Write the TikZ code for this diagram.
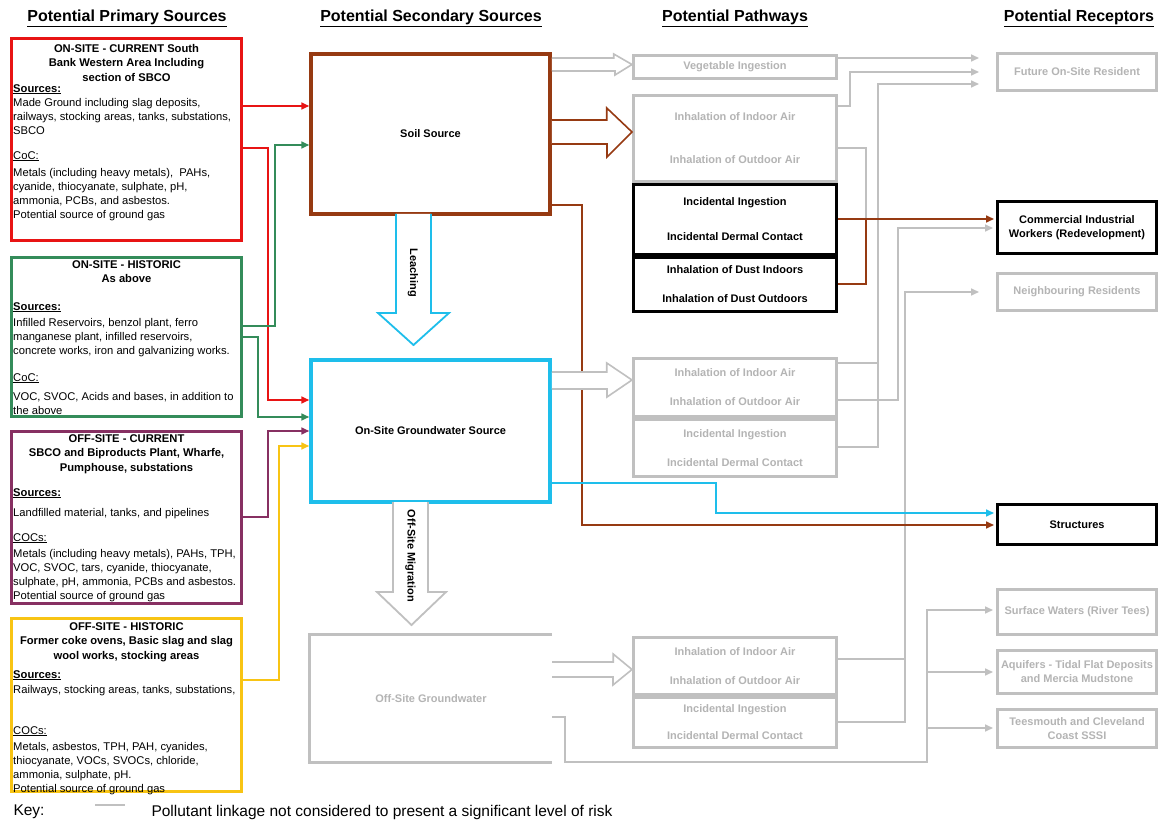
\documentclass[tikz,border=0pt]{standalone}
\usepackage{fontspec}
\setmainfont{Liberation Sans}
\usetikzlibrary{calc}
\usetikzlibrary{arrows.meta}

\definecolor{srcred}{RGB}{232,20,20}
\definecolor{srcgreen}{RGB}{52,140,90}
\definecolor{srcpurple}{RGB}{135,48,98}
\definecolor{srcyellow}{RGB}{248,196,20}
\definecolor{soilbrown}{RGB}{150,58,18}
\definecolor{gwcyan}{RGB}{30,190,235}
\definecolor{lowgray}{RGB}{192,192,192}
\definecolor{lowtext}{RGB}{180,180,180}

\begin{document}
\begin{tikzpicture}[x=1pt,y=-1pt]
\tikzstyle{hdr}=[font=\fontsize{16}{18}\selectfont\bfseries]
\tikzstyle{src}=[draw, rectangle, line width=3pt, minimum width=230, inner sep=0pt]
\tikzstyle{txt}=[font=\fontsize{11.2}{14}\selectfont, align=left, inner sep=0pt, anchor=north west]
\tikzstyle{btxt}=[font=\fontsize{11.2}{14.5}\selectfont\bfseries, align=center, inner sep=0pt, anchor=north]
\tikzstyle{sec}=[draw, rectangle, line width=3.5pt, minimum width=239, font=\fontsize{11}{14}\selectfont\bfseries]
\tikzstyle{pbox}=[draw, rectangle, line width=3pt, minimum width=203, inner sep=0pt, font=\fontsize{11}{14}\selectfont\bfseries, align=center]
\tikzstyle{rbox}=[draw, rectangle, line width=3pt, minimum width=159, inner sep=0pt, font=\fontsize{11}{14}\selectfont\bfseries, align=center]
\tikzstyle{low}=[draw=lowgray, text=lowtext]
\tikzstyle{hi}=[draw=black, text=black]
\tikzstyle{lnk}=[line width=1.6pt, -{Triangle[length=8pt,width=7pt]}]
\tikzstyle{glnk}=[line width=1.6pt, draw=lowgray, -{Triangle[length=8pt,width=7pt]}]
\tikzstyle{gline}=[line width=1.6pt, draw=lowgray]
\tikzstyle{hollow}=[line width=1.6pt, fill=white]

\useasboundingbox (0,0) rectangle (1162,826);
\fill[white] (0,0) rectangle (1162,826);

% column titles
\node[hdr] (tPrim) at (127,18) {\underline{Potential Primary Sources}};
\node[hdr] (tSec) at (431,18) {\underline{Potential Secondary Sources}};
\node[hdr] (tPath) at (735,18) {\underline{Potential Pathways}};
\node[hdr] (tRec) at (1079,18) {\underline{Potential Receptors}};

% primary sources
\node[src, draw=srcred, minimum height=202] (pRed) at (126.5,139.5) {};
\node[btxt] (pRedHd) at (126.5,44) {ON-SITE - CURRENT South\\Bank Western Area Including\\section of SBCO};
\node[txt] (pRedTx) at (13,84) {\underline{\textbf{Sources:}}\\
Made Ground including slag deposits,\\
railways, stocking areas, tanks, substations,\\
SBCO\\[11pt]
\underline{CoC:}\\[3pt]
Metals (including heavy metals),~ PAHs,\\
cyanide, thiocyanate, sulphate, pH,\\
ammonia, PCBs, and asbestos.\\
Potential source of ground gas};

\node[src, draw=srcgreen, minimum height=159] (pGreen) at (126.5,337) {};
\node[btxt] (pGreenHd) at (126.5,260) {ON-SITE - HISTORIC\\As above};
\node[txt] (pGreenTx) at (13,302) {\underline{\textbf{Sources:}}\\[2pt]
Infilled Reservoirs, benzol plant, ferro\\
manganese plant, infilled reservoirs,\\
concrete works, iron and galvanizing works.\\[13pt]
\underline{CoC:}\\[5pt]
VOC, SVOC, Acids and bases, in addition to\\
the above};

\node[src, draw=srcpurple, minimum height=172] (pPurple) at (126.5,517.5) {};
\node[btxt] (pPurpleHd) at (126.5,434) {OFF-SITE - CURRENT\\SBCO and Biproducts Plant, Wharfe,\\Pumphouse, substations};
\node[txt] (pPurpleTx) at (13,488) {\underline{\textbf{Sources:}}\\[6pt]
Landfilled material, tanks, and pipelines\\[11pt]
\underline{COCs:}\\[2pt]
Metals (including heavy metals), PAHs, TPH,\\
VOC, SVOC, tars, cyanide, thiocyanate,\\
sulphate, pH, ammonia, PCBs and asbestos.\\
Potential source of ground gas};

\node[src, draw=srcyellow, minimum height=173] (pYellow) at (126.5,705) {};
\node[btxt] (pYellowHd) at (126.5,622) {OFF-SITE - HISTORIC\\Former coke ovens, Basic slag and slag\\wool works, stocking areas};
\node[txt] (pYellowTx) at (13,670) {\underline{\textbf{Sources:}}\\[1pt]
Railways, stocking areas, tanks, substations,\\[27pt]
\underline{COCs:}\\[2pt]
Metals, asbestos, TPH, PAH, cyanides,\\
thiocyanate, VOCs, SVOCs, chloride,\\
ammonia, sulphate, pH.\\
Potential source of ground gas};

% secondary sources
\node[sec, draw=soilbrown, minimum height=160] (soil) at (430.5,134) {Soil Source};
\node[sec, draw=gwcyan, minimum height=142] (gw) at (430.5,431) {On-Site Groundwater Source};
\node[minimum width=242, minimum height=127, text=lowtext, font=\fontsize{11}{14}\selectfont\bfseries] (offgw) at (431,698.5) {Off-Site Groundwater};
\draw[line width=3pt, lowgray] (offgw.north east) -- (offgw.north west) -- (offgw.south west) -- (offgw.south east);

% pathways
\node[pbox, low, minimum height=23] (veg) at (735,67) {Vegetable Ingestion};
\node[pbox, low, minimum height=86, text depth=-5pt] (inhA) at (735,138.5) {Inhalation of Indoor Air\\[29pt]Inhalation of Outdoor Air};
\node[pbox, hi, minimum height=70] (incA) at (735,219.5) {Incidental Ingestion\\[21pt]Incidental Dermal Contact};
\node[pbox, hi, minimum height=54] (dustA) at (735,284.5) {Inhalation of Dust Indoors\\[15pt]Inhalation of Dust Outdoors};
\node[pbox, low, minimum height=58] (inhB) at (735,387.5) {Inhalation of Indoor Air\\[15pt]Inhalation of Outdoor Air};
\node[pbox, low, minimum height=57] (incB) at (735,448) {Incidental Ingestion\\[15pt]Incidental Dermal Contact};
\node[pbox, low, minimum height=57] (inhC) at (735,666) {Inhalation of Indoor Air\\[15pt]Inhalation of Outdoor Air};
\node[pbox, low, minimum height=50] (incC) at (735,722.5) {Incidental Ingestion\\[13pt]Incidental Dermal Contact};

% receptors
\node[rbox, low, minimum height=37] (future) at (1077,72) {Future On-Site Resident};
\node[rbox, hi, minimum height=52] (workers) at (1077,227.5) {Commercial Industrial\\Workers (Redevelopment)};
\node[rbox, low, minimum height=37] (neigh) at (1077,292) {Neighbouring Residents};
\node[rbox, hi, minimum height=40] (struct) at (1077,524.5) {Structures};
\node[rbox, low, minimum height=45] (surf) at (1077,612) {Surface Waters (River Tees)};
\node[rbox, low, minimum height=43] (aqui) at (1077,672) {Aquifers - Tidal Flat Deposits\\and Mercia Mudstone};
\node[rbox, low, minimum height=38] (tees) at (1077,728.5) {Teesmouth and Cleveland\\Coast SSSI};

\coordinate (brJ) at (866,219);
\coordinate (gjB) at (878,363);
\coordinate (gjC) at (905,659);
\coordinate (gjD) at (927,762);

% insignificant linkages
\draw[glnk, shorten >=17pt] (veg.east |- 0,58) -- (future.west |- 0,58);
\draw[glnk, shorten >=17pt] (inhA.east |- 0,106) -- ++(12,0) |- (future.west |- 0,72);
\draw[glnk, shorten >=17pt] (inhB.east |- 0,363) -- (gjB) |- (future.west |- 0,84);
\draw[gline] (incB.east |- 0,447) -| (gjB);
\draw[glnk, shorten >=3pt] (inhB.east |- 0,400) -- ++(60,0) |- (workers.west |- 0,228);
\draw[gline] (inhA.east |- 0,148) -| (brJ);
\draw[glnk, shorten >=17pt] (inhC.east |- 0,659) -- (gjC) |- (neigh.west |- 0,292);
\draw[gline] (incC.east |- 0,722) -| (gjC);
\draw[glnk, shorten >=3pt] (offgw.east |- 0,717) -- ++(13,0) |- (gjD) |- (surf.west |- 0,610);
\draw[glnk, shorten >=3pt] (gjD |- 0,672) -- (aqui.west |- 0,672);
\draw[glnk, shorten >=3pt] (gjD |- 0,728) -- (tees.west |- 0,728);

% primary to secondary
\draw[lnk, srcred] (pRed.east |- 0,106) -- (soil.west |- 0,106);
\draw[lnk, srcred] (pRed.east |- 0,148) -- ++(25,0) |- (gw.west |- 0,400);
\draw[lnk, srcgreen] (pGreen.east |- 0,326) -- ++(32,0) |- (soil.west |- 0,145);
\draw[lnk, srcgreen] (pGreen.east |- 0,337) -- ++(15,0) |- (gw.west |- 0,417);
\draw[lnk, srcpurple] (pPurple.east |- 0,517) -- ++(25,0) |- (gw.west |- 0,431);
\draw[lnk, srcyellow] (pYellow.east |- 0,680) -- ++(36,0) |- (gw.west |- 0,446);

% significant linkages
\draw[lnk, soilbrown, shorten >=2pt] (soil.east |- 0,205) -- ++(30,0) |- (struct.west |- 0,525);
\draw[lnk, gwcyan, shorten >=2pt] (gw.east |- 0,483) -- ++(164,0) |- (struct.west |- 0,513);
\draw[lnk, soilbrown, shorten >=2pt] (incA.east |- 0,219) -- (workers.west |- 0,219);
\draw[line width=1.6pt, soilbrown] (dustA.east |- 0,284) -| (brJ);

% block arrows
\filldraw[hollow, draw=lowgray] (soil.east |- 0,58) -- ++(62,0) -- ++(0,-4) -- (veg.west |- 0,64.5) -- ++(-17,10.5) -- ++(0,-4) -- (soil.east |- 0,71);
\filldraw[hollow, draw=soilbrown] (soil.east |- 0,120) -- ++(55,0) -- ++(0,-12) -- (inhA.west |- 0,132) -- ++(-25,25) -- ++(0,-13) -- (soil.east |- 0,144);
\filldraw[hollow, draw=lowgray] (gw.east |- 0,372) -- ++(55,0) -- ++(0,-9) -- (inhB.west |- 0,380) -- ++(-25,17) -- ++(0,-8) -- (gw.east |- 0,389);
\filldraw[hollow, draw=lowgray] (offgw.east |- 0,662) -- ++(61,0) -- ++(0,-8) -- (inhC.west |- 0,669.5) -- ++(-19,15.5) -- ++(0,-8) -- (offgw.east |- 0,677);
\filldraw[hollow, draw=gwcyan, line width=1.8pt] (396,214) -- (396,313) -- (378,313) -- (413.5,345) -- (449,313) -- (431,313) -- (431,214);
\filldraw[hollow, draw=lowgray, line width=1.8pt] (393,502) -- (393,592) -- (377,592) -- (411.5,625) -- (446,592) -- (428,592) -- (428,502);
\node[rotate=-90, font=\fontsize{11}{14}\selectfont\bfseries] (leach) at (413,273) {Leaching};
\node[rotate=-90, font=\fontsize{11}{14}\selectfont\bfseries] (offmig) at (410.5,556) {Off-Site Migration};

% key
\node[anchor=west, font=\fontsize{15.5}{18}\selectfont] (keyLbl) at (10,812) {Key:};
\draw[lowgray, line width=1.6pt] (95,805) -- (125,805);
\node[anchor=west, font=\fontsize{15.5}{18}\selectfont] (keyTx) at (148,812) {Pollutant linkage not considered to present a significant level of risk};

\end{tikzpicture}
\end{document}
